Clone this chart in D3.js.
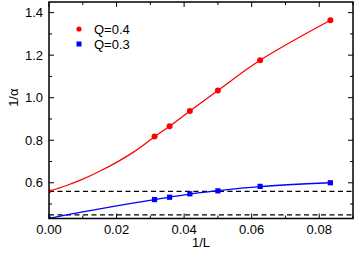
<!DOCTYPE html>
<html>
<head>
<meta charset="utf-8">
<script src="https://cdn.jsdelivr.net/npm/d3@7"></script>
<style>
    body { margin: 0; background: #fff; }
    svg text { font-family: "Liberation Sans", Arial, sans-serif; fill: #000; }
</style>
</head>
<body>
<div id="chart"></div>
<script>
// punten uit de figuur
var invL = [0.03125, 0.0357, 0.0417, 0.05, 0.0625, 0.0833];
var redVals = [0.818, 0.866, 0.937, 1.034, 1.176, 1.364];
var blueVals = [0.521, 0.532, 0.548, 0.562, 0.583, 0.600];

var redFitX = [0, 0.005, 0.01, 0.015, 0.02, 0.025, 0.03125, 0.0357, 0.0417, 0.05, 0.0625, 0.0833];
var redFitY = [0.560, 0.586, 0.617, 0.654, 0.696, 0.744, 0.816, 0.866, 0.937, 1.034, 1.176, 1.364];
var blueFitX = [0, 0.01, 0.02, 0.03125, 0.0357, 0.0417, 0.05, 0.0625, 0.0833];
var blueFitY = [0.433, 0.463, 0.491, 0.521, 0.532, 0.547, 0.563, 0.582, 0.600];

var intercepts = [0.560, 0.433];
var dashedLevels = [0.560, 0.449];

var xTicks = [0, 0.02, 0.04, 0.06, 0.08];
var xMinor = [0.01, 0.03, 0.05, 0.07, 0.09];
var yTicks = [0.6, 0.8, 1.0, 1.2, 1.4];
var yMinor = [0.5, 0.7, 0.9, 1.1, 1.3];

var legendLabels = ["Q=0.4", "Q=0.3"];

var width = 354;
var height = 260;
var pLeft = 49, pRight = 353, pTop = 2, pBottom = 218.5;

var x = d3.scaleLinear().domain([0, 0.09]).range([pLeft, pRight]);
var y = d3.scaleLinear().domain([0.432, 1.45]).range([pBottom, pTop]);

var svg = d3.select("#chart")
    .append("svg")
    .attr("width", width)
    .attr("height", height);

svg.append("clipPath").attr("id", "clip")
    .append("rect")
    .attr("x", pLeft).attr("y", pTop)
    .attr("width", pRight - pLeft).attr("height", pBottom - pTop);

var plot = svg.append("g").attr("clip-path", "url(#clip)");

// gestippelde lijnen
plot.selectAll(".dash")
    .data(dashedLevels)
    .enter()
    .append("line")
    .attr("x1", pLeft).attr("x2", pRight)
    .attr("y1", function (d) { return y(d); })
    .attr("y2", function (d) { return y(d); })
    .style("stroke", "#000")
    .style("stroke-width", 1.2)
    .style("stroke-dasharray", "5,3.5");

var line = d3.line()
    .x(function (d) { return x(d[0]); })
    .y(function (d) { return y(d[1]); })
    .curve(d3.curveCatmullRom);

plot.append("path")
    .attr("d", line(d3.zip(redFitX, redFitY)))
    .style("fill", "none")
    .style("stroke", "#ff0000")
    .style("stroke-width", 1.3);

plot.append("path")
    .attr("d", line(d3.zip(blueFitX, blueFitY)))
    .style("fill", "none")
    .style("stroke", "#0000ff")
    .style("stroke-width", 1.3);

// snijpunten bij 1/L = 0
plot.append("circle")
    .attr("cx", x(0)).attr("cy", y(intercepts[0])).attr("r", 2.2)
    .style("fill", "#ff0000");
plot.append("circle")
    .attr("cx", x(0)).attr("cy", y(intercepts[1])).attr("r", 2.2)
    .style("fill", "#0000ff");

plot.selectAll(".rp")
    .data(d3.zip(invL, redVals))
    .enter()
    .append("circle")
    .attr("cx", function (d) { return x(d[0]); })
    .attr("cy", function (d) { return y(d[1]); })
    .attr("r", 3)
    .style("fill", "#ff0000");

plot.selectAll(".bp")
    .data(d3.zip(invL, blueVals))
    .enter()
    .append("rect")
    .attr("x", function (d) { return x(d[0]) - 2.6; })
    .attr("y", function (d) { return y(d[1]) - 2.6; })
    .attr("width", 5.2)
    .attr("height", 5.2)
    .style("fill", "#0000ff");

// assen, ticks naar binnen
var frame = svg.append("g");

function ticks(axis, values, len, labels) {
    values.forEach(function (v) {
        if (axis === "x") {
            frame.append("line").attr("x1", x(v)).attr("x2", x(v))
                .attr("y1", pBottom).attr("y2", pBottom - len)
                .style("stroke", "#000").style("stroke-width", 1);
            frame.append("line").attr("x1", x(v)).attr("x2", x(v))
                .attr("y1", pTop).attr("y2", pTop + len)
                .style("stroke", "#000").style("stroke-width", 1);
            if (labels) {
                frame.append("text")
                    .attr("x", x(v)).attr("y", pBottom + 15)
                    .attr("text-anchor", "middle")
                    .style("font-size", "13px")
                    .text(d3.format(".2f")(v));
            }
        } else {
            frame.append("line").attr("x1", pLeft).attr("x2", pLeft + len)
                .attr("y1", y(v)).attr("y2", y(v))
                .style("stroke", "#000").style("stroke-width", 1);
            frame.append("line").attr("x1", pRight).attr("x2", pRight - len)
                .attr("y1", y(v)).attr("y2", y(v))
                .style("stroke", "#000").style("stroke-width", 1);
            if (labels) {
                frame.append("text")
                    .attr("x", pLeft - 6).attr("y", y(v) + 4.5)
                    .attr("text-anchor", "end")
                    .style("font-size", "13px")
                    .text(d3.format(".1f")(v));
            }
        }
    });
}

ticks("x", xTicks, 5, true);
ticks("x", xMinor, 3, false);
ticks("y", yTicks, 5, true);
ticks("y", yMinor, 3, false);

frame.append("rect")
    .attr("x", pLeft).attr("y", pTop)
    .attr("width", pRight - pLeft).attr("height", pBottom - pTop)
    .style("fill", "none")
    .style("stroke", "#000")
    .style("stroke-width", 1.5);

// astitels
svg.append("text")
    .attr("x", (pLeft + pRight) / 2)
    .attr("y", 247)
    .attr("text-anchor", "middle")
    .style("font-size", "13px")
    .text("1/L");

svg.append("text")
    .attr("transform", "translate(18," + y(1.0) + ") rotate(-90)")
    .attr("text-anchor", "middle")
    .style("font-size", "13px")
    .text("1/\u03b1");

// legenda
var legend = svg.append("g");
legend.append("circle")
    .attr("cx", 79).attr("cy", 29).attr("r", 2.6)
    .style("fill", "#ff0000");
legend.append("rect")
    .attr("x", 76.5).attr("y", 41.5).attr("width", 5).attr("height", 5)
    .style("fill", "#0000ff");
legend.selectAll(".lt")
    .data(legendLabels)
    .enter()
    .append("text")
    .attr("x", 94)
    .attr("y", function (d, i) { return 33.5 + i * 15; })
    .style("font-size", "13px")
    .text(function (d) { return d; });
</script>
</body>
</html>
